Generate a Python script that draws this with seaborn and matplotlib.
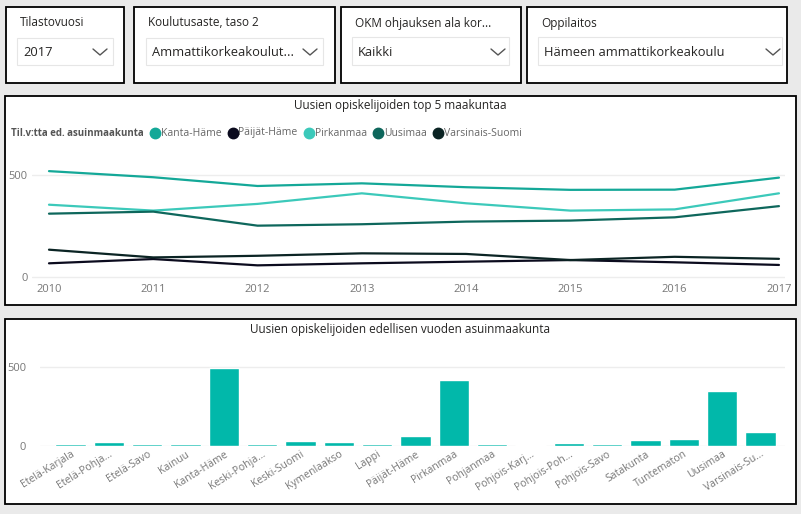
import pandas as pd
import numpy as np
import matplotlib
matplotlib.use("Agg")
import matplotlib.pyplot as plt
from matplotlib.patches import Rectangle
import seaborn as sns

sns.set_theme(style="white")
plt.rcParams['font.family'] = ['Open Sans', 'DejaVu Sans']

# --- data ---
years = [2010, 2011, 2012, 2013, 2014, 2015, 2016, 2017]
kanta_hame = [519, 489, 446, 459, 440, 427, 428, 487]
paijat_hame = [66, 87, 56, 66, 74, 82, 71, 58]
pirkanmaa = [354, 325, 358, 410, 361, 325, 331, 410]
uusimaa = [310, 320, 251, 258, 271, 276, 292, 347]
varsinais_suomi = [133, 95, 103, 115, 112, 82, 98, 88]

regions = ["Etelä-Karjala", "Etelä-Pohja...", "Etelä-Savo", "Kainuu", "Kanta-Häme",
           "Keski-Pohja...", "Keski-Suomi", "Kymenlaakso", "Lappi", "Päijät-Häme",
           "Pirkanmaa", "Pohjanmaa", "Pohjois-Karj...", "Pohjois-Poh...", "Pohjois-Savo",
           "Satakunta", "Tuntematon", "Uusimaa", "Varsinais-Su..."]
region_counts = [13, 23, 12, 8, 489, 8, 31, 25, 8, 63, 413, 8, 7, 19, 13, 38, 44, 349, 88]

line_names = ["Kanta-Häme", "Päijät-Häme", "Pirkanmaa", "Uusimaa", "Varsinais-Suomi"]
line_colors = ["#14A898", "#0B0B1E", "#3CC9BA", "#0E675C", "#0B2424"]

slicer_titles = ["Tilastovuosi", "Koulutusaste, taso 2", "OKM ohjauksen ala kor...", "Oppilaitos"]
slicer_values = ["2017", "Ammattikorkeakoulut...", "Kaikki", "Hämeen ammattikorkeakoulu"]

df_lines = pd.DataFrame({"Vuosi": years * 5,
                         "Maakunta": sum([[n] * len(years) for n in line_names], []),
                         "Määrä": kanta_hame + paijat_hame + pirkanmaa + uusimaa + varsinais_suomi})
df_bars = pd.DataFrame({"Maakunta": regions, "Määrä": region_counts})

W, H = 801, 514
fig = plt.figure(figsize=(W / 100, H / 100), dpi=100)
fig.patch.set_facecolor("#EAEAEA")


def box(x0, y0, x1, y1):
    return [x0 / W, 1 - y1 / H, (x1 - x0) / W, (y1 - y0) / H]


# background drawing layer in pixel coordinates
bg = fig.add_axes([0, 0, 1, 1])
bg.set_xlim(0, W)
bg.set_ylim(H, 0)
bg.axis("off")

slicers = [(6, 7, 124, 83), (134, 7, 335, 83), (341, 7, 521, 83), (527, 7, 787, 83)]
drops = [(17, 38, 113, 65), (146, 38, 323, 65), (352, 37, 509, 65), (538, 37, 782, 65)]
chevron_x = [100, 310, 498, 773]
for (x0, y0, x1, y1), (dx0, dy0, dx1, dy1), cx, t, v in zip(slicers, drops, chevron_x,
                                                          slicer_titles, slicer_values):
    bg.add_patch(Rectangle((x0, y0), x1 - x0, y1 - y0, facecolor="white",
                           edgecolor="black", lw=1.3))
    bg.add_patch(Rectangle((dx0, dy0), dx1 - dx0, dy1 - dy0, facecolor="white",
                           edgecolor="#E6E6E6", lw=0.8))
    bg.text(x0 + 14, 23, t, fontsize=8.5, color="#252423", va="center")
    bg.text(dx0 + 6, 52, v, fontsize=9.3, color="#252423", va="center")
    bg.plot([cx - 7, cx, cx + 7], [49, 55, 49], color="#555555", lw=1)

for (x0, y0, x1, y1) in [(5, 96, 796, 305), (5, 319, 796, 504)]:
    bg.add_patch(Rectangle((x0, y0), x1 - x0, y1 - y0, facecolor="white",
                           edgecolor="black", lw=1.3))

bg.text(400, 106, "Uusien opiskelijoiden top 5 maakuntaa", fontsize=8.5,
        color="#252423", ha="center", va="center")
bg.text(400, 329, "Uusien opiskelijoiden edellisen vuoden asuinmaakunta", fontsize=8.5,
        color="#252423", ha="center", va="center")

# legend, laid out from the text widths
renderer = fig.canvas.get_renderer()
t = bg.text(11, 133, "Til.v:tta ed. asuinmaakunta", fontsize=7, color="#555555",
            fontweight="bold", va="center")
end = t.get_window_extent(renderer).x1
for name, col in zip(line_names, line_colors):
    cx = end + 11.5
    bg.plot([cx], [133], marker="o", ms=7.5, color=col, linestyle="none")
    t = bg.text(cx + 5.5, 133, name, fontsize=7.5, color="#666666", va="center")
    end = t.get_window_extent(renderer).x1

# line chart
ax1 = fig.add_axes(box(32, 160, 785, 280))
ax1.patch.set_alpha(0)
sns.lineplot(data=df_lines, x="Vuosi", y="Määrä", hue="Maakunta",
             palette=dict(zip(line_names, line_colors)), lw=1.6, legend=False, ax=ax1)
ax1.set_xlim(2009.837, 2017.058)
ax1.set_ylim(-16, 573.7)
ax1.set_yticks([0, 500])
ax1.set_xticks(years)
ax1.yaxis.grid(True, color="#EDEDED", lw=1)
ax1.set_xlabel("")
ax1.set_ylabel("")
for s in ax1.spines.values():
    s.set_visible(False)
ax1.tick_params(axis="both", length=0, labelsize=8, labelcolor="#777777")
ax1.tick_params(axis="y", pad=3)
ax1.tick_params(axis="x", pad=3)

# bar chart
ax2 = fig.add_axes(box(40, 355, 785, 446))
ax2.patch.set_alpha(0)
sns.barplot(data=df_bars, x="Maakunta", y="Määrä", color="#01B8AA", width=0.79,
            saturation=1, ax=ax2)
ax2.set_xlim(-0.796, 18.64)
ax2.set_ylim(-2, 574)
ax2.set_yticks([0, 500])
ax2.yaxis.grid(True, color="#EDEDED", lw=1)
ax2.set_axisbelow(True)
ax2.set_xlabel("")
ax2.set_ylabel("")
for s in ax2.spines.values():
    s.set_visible(False)
ax2.tick_params(axis="y", length=0, labelsize=8, labelcolor="#777777", pad=10)
ax2.tick_params(axis="x", length=0, labelsize=7.5, labelcolor="#777777", pad=2)
plt.setp(ax2.get_xticklabels(), rotation=32, ha="right", rotation_mode="anchor")

fig.savefig("out.png", dpi=100, facecolor=fig.get_facecolor())
